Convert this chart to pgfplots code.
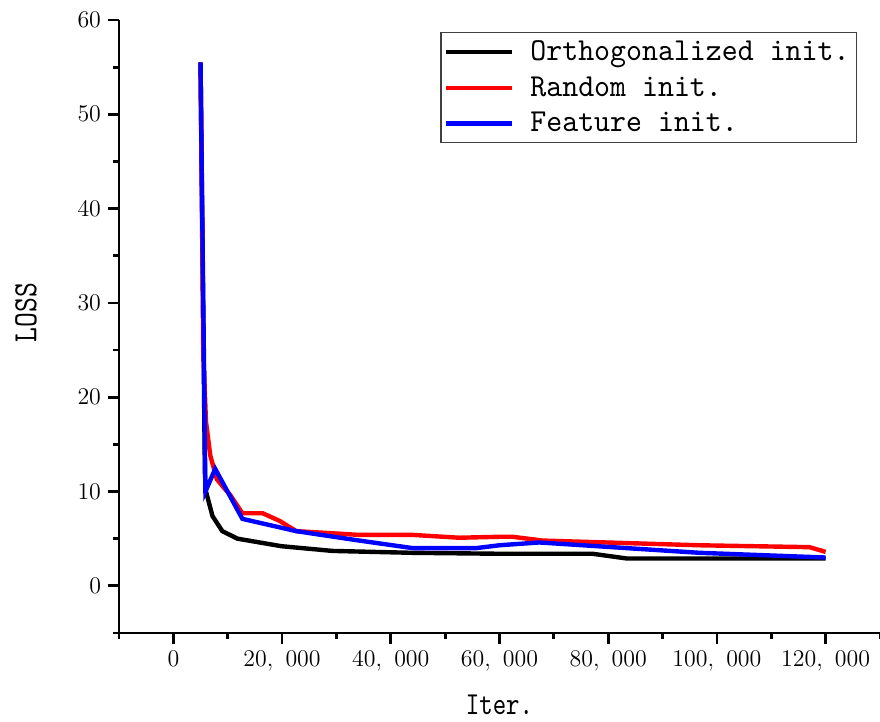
\documentclass[border=0pt]{standalone}
\usepackage{fontspec}
\usepackage{pgfplots}
\pgfplotsset{compat=1.18}
\newfontfamily\legfont[FakeStretch=0.95]{lmmono10-regular.otf}
\newfontfamily\xlabfont[FakeStretch=0.80]{lmmono10-regular.otf}
\newfontfamily\ylabfont[FakeStretch=0.83]{lmmono10-regular.otf}

\begin{document}
\begin{tikzpicture}
\begin{axis}[
  name=ax,
  scale only axis, width=380.5bp, height=306.5bp,
  xmin=-10000, xmax=130000, ymin=-5, ymax=60,
  axis x line=bottom, axis y line=left,
  axis line style={line width=1.4bp, -},
  xtick={0,20000,...,120000},
  minor xtick={-10000,10000,...,130000},
  ytick={0,10,...,60},
  minor ytick={-5,5,...,55},
  tick align=outside,
  major tick length=5.5bp, minor tick length=3bp,
  every tick/.style={black, line width=1.4bp},
  scaled x ticks=false,
  xticklabel style={/pgf/number format/fixed, /pgf/number format/1000 sep={,\ }},
  tick label style={font=\fontsize{12.5bp}{14bp}\selectfont},
  xlabel={\xlabfont\fontsize{16bp}{18bp}\selectfont Iter.},
  ylabel={\ylabfont\fontsize{17bp}{19bp}\selectfont LOSS},
  xlabel style={yshift=-5bp},
  ylabel style={yshift=13.5bp, xshift=7bp},
  legend style={at={(0.97,0.98)}, anchor=north east, draw=black!75, line width=0.6bp,
    font=\legfont\fontsize{16bp}{18bp}\selectfont, inner xsep=1.5bp, inner ysep=2bp,
    row sep=2.5bp, cells={anchor=west},
    /tikz/every odd column/.append style={column sep=6bp}},
  legend image code/.code={\draw[#1] (0bp,0bp) -- (33bp,0bp);},
  every axis plot/.append style={line width=2.2bp},
]
\addplot[black] coordinates {
  (5000,55.5)(5800,12)(6000,10)(7200,7.4)(9000,5.8)(11800,5.0)(19900,4.2)
  (29300,3.7)(44000,3.5)(60000,3.4)(77100,3.4)(83400,2.9)(120000,2.9)};
\addlegendentry{Orthogonalized init.}
\addplot[red] coordinates {
  (5000,55.5)(5500,25)(6000,17.4)(6800,13.8)(8000,11.3)(9000,10.6)(10500,9.6)
  (12700,7.7)(16400,7.7)(19500,6.9)(22600,5.8)(34200,5.4)(44000,5.4)(52600,5.1)
  (60000,5.2)(62400,5.2)(67900,4.8)(96800,4.3)(117000,4.1)(120000,3.6)};
\addlegendentry{Random init.}
\addplot[blue] coordinates {
  (5000,55.5)(5900,10.0)(7700,12.4)(12700,7.1)(22600,5.8)(34200,4.8)(44000,4.0)
  (55700,4.0)(60000,4.3)(67300,4.6)(96800,3.5)(120000,3.0)};
\addlegendentry{Feature init.}
\end{axis}
\pgfresetboundingbox
\path ([xshift=-59.5bp,yshift=-44.5bp]ax.south west) rectangle ([yshift=10bp]ax.north east);
\end{tikzpicture}
\end{document}
